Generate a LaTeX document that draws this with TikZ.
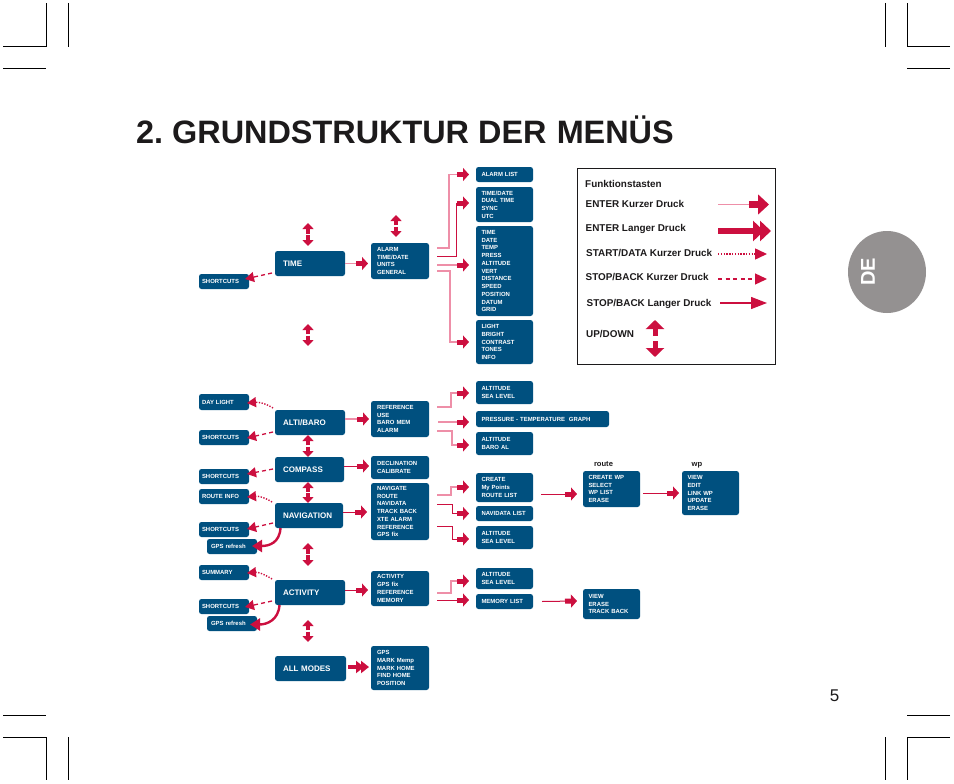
\documentclass[tikz,border=0pt]{standalone}
\usepackage{fontspec}
\setmainfont{Liberation Sans}
\usetikzlibrary{arrows.meta,calc}
\definecolor{navy}{HTML}{00507F}
\definecolor{crim}{HTML}{CC0F3F}
\definecolor{pinkl}{HTML}{EE8FA8}
\definecolor{tabgray}{HTML}{949191}
\definecolor{ink}{HTML}{1C1A1B}
\tikzset{
 box/.style={fill=navy,text=white,rounded corners=2.5pt,inner ysep=0pt,outer sep=0pt,align=left,anchor=center},
 big/.style={font=\fontsize{8}{9}\selectfont\bfseries},
 small/.style={font=\fontsize{5.95}{7.75}\selectfont\bfseries},
 head/.style={-{Rectangle[length=6pt,width=5pt,sep=0pt,color=crim]Triangle[length=6pt,width=13pt,color=crim]}},
 pinkln/.style={draw=pinkl,line width=1.2pt,head},
 pinkth/.style={draw=pinkl,line width=1.8pt,head},
 redln/.style={draw=crim,line width=1pt,head},
 dashln/.style={draw=crim,line width=1.3pt,dash pattern=on 4pt off 3.2pt,-{Triangle[length=9pt,width=10pt,color=crim]}},
 dotln/.style={draw=crim,line width=1.4pt,dash pattern=on 1.3pt off 1.5pt,-{Triangle[length=9pt,width=10pt,color=crim]}},
 gpsln/.style={draw=crim,line width=2.4pt,-{Triangle[length=10pt,width=12pt,color=crim]}},
 updn/.style={draw=crim,line width=3.6pt,-{Triangle[length=6pt,width=11pt,color=crim]}},
 allmodes/.style={draw=crim,line width=3.4pt,-{Triangle[length=8pt,width=12pt,color=crim,sep=-3pt]Triangle[length=8pt,width=12pt,color=crim]}},
 legtext/.style={font=\fontsize{9.9}{11}\selectfont\bfseries,text=ink,anchor=base west,inner sep=0pt},
 crop/.style={draw=black,line width=.8pt},
}
\newcommand{\bx}[7]{% name x1 y1 x2 y2 style text
 \pgfmathsetmacro{\bw}{#4-#2}\pgfmathsetmacro{\bh}{#5-#3}
 \pgfmathsetmacro{\bc}{(#2+#4)/2}\pgfmathsetmacro{\bd}{(#3+#5)/2}
 \ifx#6b\def\bp{8}\def\bs{big}\fi
 \ifx#6m\def\bp{6}\def\bs{small}\fi
 \ifx#6t\def\bp{5.5}\def\bs{small}\fi
 \ifx#6s\def\bp{3}\def\bs{small}\fi
 \ifx#6g\def\bp{4}\def\bs{small}\fi
 \pgfmathsetmacro{\bt}{\bw-2*\bp}
 \node[box,\bs,inner xsep=\bp pt,text width=\bt pt,minimum height=\bh pt,minimum width=\bw pt] (#1) at (\bc,\bd) {#7};
}
\newcommand{\elbow}[6]{% style src dy xmid tgt dy
 \coordinate (eA) at ([shift={(8,#3)}]#2.east);
 \coordinate (eB) at ([shift={(-7,#6)}]#5.west);
 \coordinate (eM) at (#4,0);
 \draw[#1] (eA) -- (eA -| eM) -- (eB -| eM) -- (eB);
}
\newcommand{\fwd}[7]{% style src dx dy tgt dx dy
 \draw[#1] ([shift={(#3,#4)}]#2.east) -- ([shift={(#6,#7)}]#5.west);
}
\newcommand{\bck}[7]{%
 \draw[#1] ([shift={(#3,#4)}]#2.west) -- ([shift={(#6,#7)}]#5.east);
}
\newcommand{\dotc}[7]{%
 \draw[#1] ([shift={(#3,#4)}]#2.west) .. controls +(-8,-5) and +(11,-1) .. ([shift={(#6,#7)}]#5.east);
}
\newcommand{\udfree}[3]{% x, top y, bottom y
 \pgfmathsetmacro{\um}{(#2+#3)/2}
 \coordinate (uc) at (#1,\um);
 \draw[updn] ([shift={(0,-.7)}]uc) -- (#1,#2);
 \draw[updn] ([shift={(0,.7)}]uc) -- (#1,#3);
}
\newcommand{\udnodes}[3]{% x, top node, bottom node
 \coordinate (uc0) at ($(#2.south)!.5!(#3.north)$);
 \coordinate (ux) at (#1,0);
 \coordinate (uc) at (uc0 -| ux);
 \draw[updn] ([shift={(0,-.7)}]uc) -- (uc |- #2.south);
 \draw[updn] ([shift={(0,.7)}]uc) -- (uc |- #3.north);
}
\begin{document}
\begin{tikzpicture}[x=1pt,y=-1pt]
\useasboundingbox (0,0) rectangle (954,784);
% crop marks
\draw[crop] (3,46)--(46,46)--(46,3);
\draw[crop] (68,3)--(68,47);
\draw[crop] (3,68)--(46,68);
\draw[crop] (950,46)--(907,46)--(907,3);
\draw[crop] (885,3)--(885,47);
\draw[crop] (950,68)--(907,68);
\draw[crop] (3,737)--(46,737)--(46,780);
\draw[crop] (68,737)--(68,780);
\draw[crop] (3,715)--(46,715);
\draw[crop] (950,737)--(907,737)--(907,780);
\draw[crop] (885,737)--(885,780);
\draw[crop] (950,715)--(907,715);
% title
\node[anchor=base west,inner sep=0pt,text=ink,font=\fontsize{32.4}{36}\selectfont\bfseries] (title) at (136,143.5) {2.\hspace{-3pt} GRUNDSTRUKTUR DER\hspace{1.2pt} MENÜS};
% tab
\fill[tabgray] (887,272) ellipse [x radius=39,y radius=41];
\node[rotate=90,text=white,inner sep=0pt,font=\fontsize{20}{22}\selectfont\bfseries] (de) at (868,272) {DE};
\node[inner sep=0pt,text=ink,font=\fontsize{17}{19}\selectfont] (pg) at (834.5,696) {5};
% legend
\node[draw=ink,line width=.8pt,minimum width=198pt,minimum height=196pt,inner sep=0pt,outer sep=0pt] (leg) at (676,266) {};
\node[legtext] (l0) at (585,187) {Funktionstasten};
\node[legtext] (l1) at (585.5,207) {ENTER Kurzer Druck};
\node[legtext] (l2) at (585.5,231) {ENTER Langer Druck};
\node[legtext] (l3) at (586,256.5) {START/DATA Kurzer Druck};
\node[legtext] (l4) at (585.5,280.5) {STOP/BACK Kurzer Druck};
\node[legtext] (l5) at (586.5,306.5) {STOP/BACK Langer Druck};
\node[legtext] (l6) at (586,337.5) {UP/DOWN};
\coordinate (a1) at (718,204.5); \coordinate (b1) at (769,204.5);
\draw[draw=pinkl,line width=1.4pt,-{Rectangle[length=9pt,width=6.5pt,sep=0pt,color=crim]Triangle[length=11pt,width=20pt,color=crim]}] (a1) -- (b1);
\coordinate (a2) at (718,231); \coordinate (b2) at (771,231);
\draw[draw=crim,line width=6pt,-{Triangle[length=11pt,width=20pt,color=crim,sep=-4pt]Triangle[length=11pt,width=20pt,color=crim]}] (a2) -- (b2);
\coordinate (a3) at (718,254); \coordinate (b3) at (767,254);
\draw[draw=crim,line width=1.5pt,dash pattern=on 1.3pt off 1.5pt,-{Triangle[length=12pt,width=11pt,color=crim]}] (a3) -- (b3);
\coordinate (a4) at (718,279); \coordinate (b4) at (767,279);
\draw[draw=crim,line width=1.3pt,dash pattern=on 4pt off 3.6pt,-{Triangle[length=12pt,width=11pt,color=crim]}] (a4) -- (b4);
\coordinate (a5) at (720,303); \coordinate (b5) at (767,303);
\draw[draw=crim,line width=1.3pt,-{Triangle[length=16pt,width=12pt,color=crim]}] (a5) -- (b5);
\coordinate (c6) at (655,338);
\draw[draw=crim,line width=5pt,-{Triangle[length=9pt,width=18pt,color=crim]}] ([shift={(0,-2)}]c6) -- (655,320);
\draw[draw=crim,line width=5pt,-{Triangle[length=9pt,width=18pt,color=crim]}] ([shift={(0,3)}]c6) -- (655,357);
% first block
\bx{sc1}{199}{274}{249}{289}{s}{SHORTCUTS}
\bx{time}{275}{251}{345}{276}{b}{TIME}
\bx{timem}{371}{243}{429}{279}{m}{ALARM\\TIME/DATE\\UNITS\\GENERAL}
\bx{alarml}{476}{167}{533}{182}{t}{ALARM LIST}
\bx{tdate}{476}{187}{533}{222}{t}{TIME/DATE\\DUAL TIME\\SYNC\\UTC}
\bx{units}{476}{226}{533}{316}{t}{TIME\\DATE\\TEMP\\PRESS\\ALTITUDE\\VERT\\DISTANCE\\SPEED\\POSITION\\DATUM\\GRID}
\bx{gen}{476}{320}{533}{364}{t}{LIGHT\\BRIGHT\\CONTRAST\\TONES\\INFO}
% second block
\bx{day}{199}{394}{249}{410}{s}{DAY LIGHT}
\bx{sc2}{199}{430}{249}{445}{s}{SHORTCUTS}
\bx{sc3}{199}{469}{249}{484}{s}{SHORTCUTS}
\bx{rinfo}{199}{489}{249}{504}{s}{ROUTE INFO}
\bx{sc4}{199}{522}{249}{537}{s}{SHORTCUTS}
\bx{gps1}{207}{539}{257}{554}{g}{GPS refresh}
\bx{summ}{199}{565}{249}{580}{s}{SUMMARY}
\bx{sc5}{199}{599}{249}{614}{s}{SHORTCUTS}
\bx{gps2}{207}{616}{257}{631}{g}{GPS refresh}
\bx{alti}{275}{410}{345}{435}{b}{ALTI/BARO}
\bx{comp}{275}{457}{344}{482}{b}{COMPASS}
\bx{nav}{275}{503}{343}{528}{b}{NAVIGATION}
\bx{act}{275}{580}{345}{605}{b}{ACTIVITY}
\bx{allm}{275}{656}{346}{681}{b}{ALL MODES}
\bx{altim}{371}{401}{429}{437}{m}{REFERENCE\\USE\\BARO MEM\\ALARM}
\bx{compm}{371}{456}{429}{479}{m}{DECLINATION\\CALIBRATE}
\bx{navm}{371}{483}{429}{540}{m}{NAVIGATE\\ROUTE\\NAVIDATA\\TRACK BACK\\XTE ALARM\\REFERENCE\\GPS fix}
\bx{actm}{371}{571}{429}{606}{m}{ACTIVITY\\GPS fix\\REFERENCE\\MEMORY}
\bx{allmm}{371}{646}{429}{690}{m}{GPS\\MARK Memp\\MARK HOME\\FIND HOME\\POSITION}
\bx{a1}{476}{381}{533}{404}{t}{ALTITUDE\\SEA LEVEL}
\bx{press}{476}{411}{609}{427}{t}{PRESSURE - TEMPERATURE\ \ GRAPH}
\bx{a2}{476}{432}{533}{455}{t}{ALTITUDE\\BARO AL}
\bx{create}{476}{473}{533}{502}{t}{CREATE\\My Points\\ROUTE LIST}
\bx{navl}{476}{506}{533}{521}{t}{NAVIDATA LIST}
\bx{a3}{476}{526}{533}{549}{t}{ALTITUDE\\SEA LEVEL}
\bx{a4}{476}{568}{533}{589}{t}{ALTITUDE\\SEA LEVEL}
\bx{meml}{476}{594}{533}{609}{t}{MEMORY LIST}
\bx{route}{583}{471}{640}{507}{t}{CREATE WP\\SELECT\\WP LIST\\ERASE}
\bx{wp}{682}{471}{739}{515}{t}{VIEW\\EDIT\\LINK WP\\UPDATE\\ERASE}
\bx{mview}{583}{589}{640}{619}{t}{VIEW\\ERASE\\TRACK BACK}
\node[inner sep=0pt,text=ink,font=\fontsize{7.6}{9}\selectfont\bfseries] (lroute) at (603.5,464) {route};
\node[inner sep=0pt,text=ink,font=\fontsize{7.6}{9}\selectfont\bfseries] (lwp) at (697,465.5) {wp};
% forward connectors
\fwd{pinkln}{time}{0}{0}{timem}{-3}{2.5}
\fwd{pinkth}{alti}{0}{-3.5}{altim}{-2}{0}
\fwd{redln}{comp}{0}{-3.5}{compm}{-2}{-1.5}
\fwd{redln}{nav}{0}{-3.5}{navm}{-4}{.5}
\fwd{redln}{act}{0}{-2.5}{actm}{-3}{1.5}
\draw[allmodes] ([shift={(2,-1.5)}]allm.east) -- ([shift={(-2,-1)}]allmm.west);
\elbow{pinkln}{timem}{-13}{449}{alarml}{0}
\elbow{redln}{timem}{-5}{456}{tdate}{-1.5}
\fwd{pinkth}{timem}{8}{4}{units}{-7}{-6}
\elbow{pinkln}{timem}{10}{450}{gen}{0}
\elbow{pinkth}{altim}{-12}{451}{a1}{.5}
\fwd{pinkth}{altim}{9}{3}{press}{-7}{3}
\elbow{pinkln}{altim}{12}{452}{a2}{1.5}
\elbow{pinkln}{navm}{-16.5}{451}{create}{-.5}
\elbow{redln}{navm}{-7.5}{452}{navl}{0}
\elbow{redln}{navm}{14.5}{452}{a3}{1.5}
\elbow{pinkln}{actm}{4.5}{451}{a4}{2.5}
\fwd{redln}{actm}{8}{11.5}{meml}{-7}{-1.5}
\fwd{redln}{create}{8}{6.5}{route}{-6}{5}
\fwd{redln}{route}{3}{4}{wp}{-3}{0}
\fwd{redln}{meml}{9}{0}{mview}{-6}{-3}
% back connectors
\bck{dashln}{time}{-3}{9.5}{sc1}{-4}{-2.5}
\bck{dashln}{alti}{-2}{9.5}{sc2}{-2}{.5}
\bck{dashln}{comp}{-2}{-.5}{sc3}{-2}{-2.5}
\bck{dashln}{nav}{-2}{7.5}{sc4}{-2}{-.5}
\bck{dashln}{act}{-3}{8.5}{sc5}{-4}{.5}
\dotc{dotln}{alti}{-2}{-14.5}{day}{-2}{1}
\dotc{dotln}{nav}{-3}{-13.5}{rinfo}{-2}{.5}
\dotc{dotln}{act}{-3}{-13.5}{summ}{-2}{.5}
\draw[gpsln] ([shift={(5.5,0)}]nav.south west) .. controls +(-1,15) and +(17,0) .. ([shift={(-5,-.5)}]gps1.east);
\draw[gpsln] ([shift={(4.5,0)}]act.south west) .. controls +(-1,15) and +(17,0) .. ([shift={(-7,1)}]gps2.east);
% up/down
\udfree{308}{223}{246}
\udfree{308}{324}{346}
\udfree{396}{215}{237}
\udnodes{308}{alti}{comp}
\udnodes{308}{comp}{nav}
\udfree{308}{543}{566}
\udfree{308}{620}{642}
\end{tikzpicture}
\end{document}
